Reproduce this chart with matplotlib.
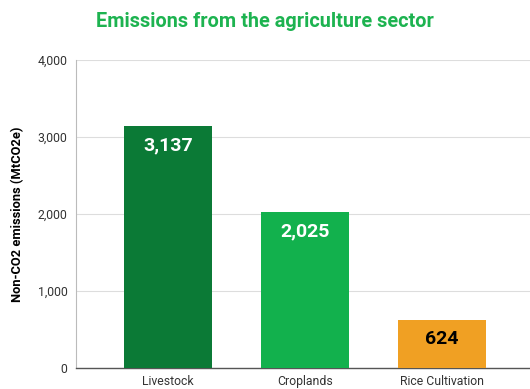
import matplotlib.pyplot as plt

# Emissions data (MtCO2e)
sectors = ["Livestock", "Croplands", "Rice Cultivation"]
emissions = [3137, 2025, 624]
bar_colors = ["#0B7A36", "#12B14D", "#F0A023"]
label_colors = ["white", "white", "black"]

plt.rcParams['font.family'] = ['Roboto', 'DejaVu Sans']

fig = plt.figure(figsize=(5.30, 3.89), dpi=100)
ax = fig.add_axes([0.1434, 0.054, 0.8566, 0.792])

bars = ax.bar(range(len(sectors)), emissions, width=0.64, color=bar_colors, zorder=3)

# value labels inside the top of each bar
for bar, val, c in zip(bars, emissions, label_colors):
    ax.annotate(f"{val:,}", (bar.get_x() + bar.get_width() / 2, val),
                xytext=(0, -19), textcoords="offset pixels",
                ha="center", va="center", color=c, fontsize=14,
                fontweight="bold")

ax.set_xlim(-0.67, 2.64)
ax.set_ylim(0, 4000)
ax.set_yticks([0, 1000, 2000, 3000, 4000])
ax.set_yticklabels(["0", "1,000", "2,000", "3,000", "4,000"])
ax.set_xticks(range(len(sectors)))
ax.set_xticklabels(sectors)

ax.grid(axis="y", color="#DDDDDD", linewidth=0.8, zorder=0)
ax.tick_params(axis="both", length=0, labelsize=8.8, colors="#333333")
ax.tick_params(axis="y", pad=6)
ax.tick_params(axis="x", pad=5)

for s in ["top", "right"]:
    ax.spines[s].set_visible(False)
ax.spines["left"].set_color("#BBBBBB")
ax.spines["left"].set_linewidth(0.8)
ax.spines["bottom"].set_color("#555555")
ax.spines["bottom"].set_linewidth(1.0)

ax.set_ylabel("Non-CO2 emissions (MtCO2e)", fontsize=9.3, fontweight="bold",
              color="black", labelpad=10)

fig.text(0.5, 0.946, "Emissions from the agriculture sector", ha="center",
         va="center", fontsize=14.3, fontweight="bold", color="#1DB350")

fig.savefig("out.png", dpi=100)
